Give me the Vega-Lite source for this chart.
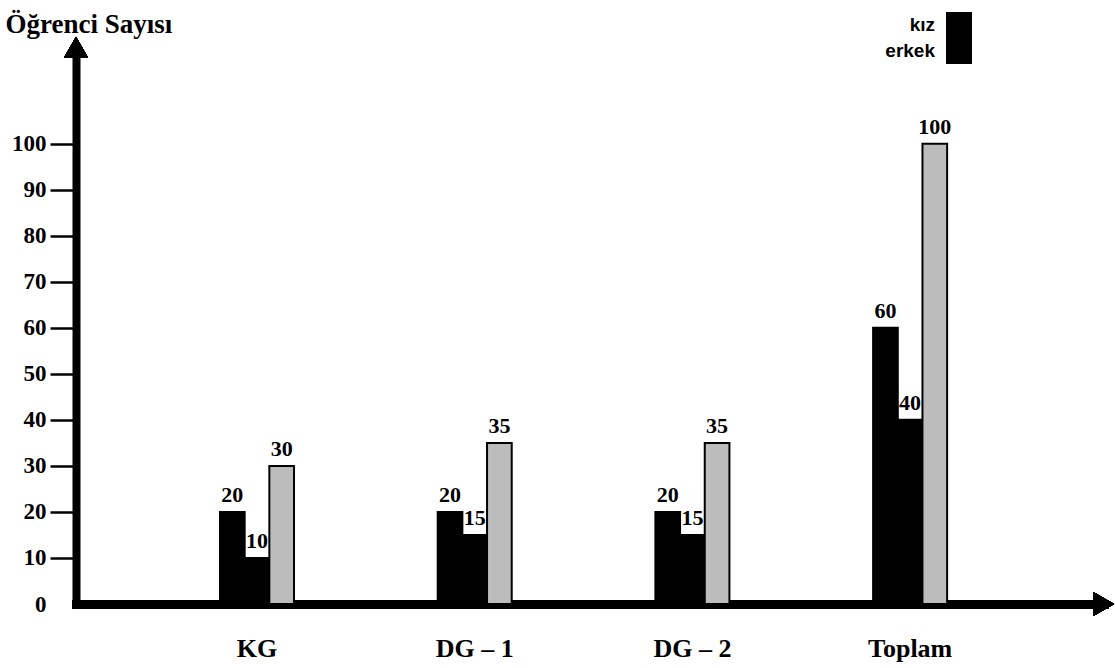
{
  "$schema": "https://vega.github.io/schema/vega-lite/v6.json",
  "autosize": {"type": "none"},
  "padding": {"left": 76, "top": 47, "right": 11, "bottom": 64},
  "width": 1028,
  "height": 557,
  "background": "white",
  "data": {
    "values": [
      {"kategori": "KG", "grup": "kız", "deger": 20},
      {"kategori": "KG", "grup": "erkek", "deger": 10},
      {"kategori": "KG", "grup": "toplam", "deger": 30},
      {"kategori": "DG – 1", "grup": "kız", "deger": 20},
      {"kategori": "DG – 1", "grup": "erkek", "deger": 15},
      {"kategori": "DG – 1", "grup": "toplam", "deger": 35},
      {"kategori": "DG – 2", "grup": "kız", "deger": 20},
      {"kategori": "DG – 2", "grup": "erkek", "deger": 15},
      {"kategori": "DG – 2", "grup": "toplam", "deger": 35},
      {"kategori": "Toplam", "grup": "kız", "deger": 60},
      {"kategori": "Toplam", "grup": "erkek", "deger": 40},
      {"kategori": "Toplam", "grup": "toplam", "deger": 100}
    ]
  },
  "resolve": {"scale": {"x": "independent"}, "axis": {"x": "independent"}},
  "layer": [
    {
      "layer": [
        {
          "mark": {"type": "bar", "stroke": "#000000", "strokeWidth": 2, "opacity": 1},
          "encoding": {
            "x": {
              "field": "kategori", "type": "nominal", "sort": null,
              "scale": {"paddingInner": 0.66, "paddingOuter": 0.691, "align": 0.4786},
              "axis": {
                "title": null, "labelAngle": 0, "ticks": false, "tickSize": 0,
                "labelFont": "Liberation Serif", "labelFontSize": 26, "labelFontWeight": "bold",
                "labelColor": "#000000", "labelPadding": 31,
                "domainColor": "#000000", "domainWidth": 9, "domainCap": "square"
              }
            },
            "xOffset": {
              "field": "grup", "type": "nominal", "sort": ["kız", "erkek", "toplam"],
              "scale": {"paddingInner": 0, "paddingOuter": 0}
            },
            "y": {
              "field": "deger", "type": "quantitative",
              "scale": {"domain": [0, 121], "nice": false},
              "axis": {
                "title": "Öğrenci Sayısı", "titleAngle": 0, "titleAlign": "left",
                "titleBaseline": "alphabetic", "titleX": -71, "titleY": -15,
                "titleFont": "Liberation Serif", "titleFontSize": 27, "titleFontWeight": "bold",
                "titleColor": "#000000",
                "values": [0, 10, 20, 30, 40, 50, 60, 70, 80, 90, 100],
                "grid": false, "labelFont": "Liberation Serif", "labelFontSize": 23,
                "labelFontWeight": "bold", "labelColor": "#000000", "labelPadding": 4,
                "tickSize": 26, "tickWidth": 2.5, "tickColor": "#000000",
                "tickOpacity": {"condition": {"test": "datum.value === 0", "value": 0}, "value": 1},
                "domainColor": "#000000", "domainWidth": 8, "domainCap": "square"
              }
            },
            "color": {
              "field": "grup", "type": "nominal",
              "scale": {"domain": ["kız", "erkek", "toplam"], "range": ["#000000", "#000000", "#bcbcbc"]},
              "legend": {
                "title": null, "values": ["kız", "erkek"], "orient": "none",
                "legendX": 870, "legendY": -35, "padding": 0, "rowPadding": 0,
                "symbolType": "square", "symbolSize": 676, "symbolStrokeWidth": 0,
                "symbolOpacity": 1, "symbolFillColor": "#1a1a1a",
                "labelFont": "Liberation Sans", "labelFontSize": 19, "labelFontWeight": "bold",
                "labelColor": "#000000", "labelAlign": "right", "labelOffset": -37
              }
            }
          }
        },
        {
          "mark": {
            "type": "text", "baseline": "alphabetic", "dy": -10,
            "font": "Liberation Serif", "fontSize": 22, "fontWeight": "bold", "color": "#000000"
          },
          "encoding": {
            "x": {"field": "kategori", "type": "nominal", "sort": null},
            "xOffset": {"field": "grup", "type": "nominal", "sort": ["kız", "erkek", "toplam"]},
            "y": {"field": "deger", "type": "quantitative"},
            "text": {"field": "deger", "type": "quantitative"}
          }
        }
      ]
    },
    {
      "mark": {"type": "point", "shape": "triangle-up", "size": 560, "filled": true, "color": "#000000", "opacity": 1},
      "encoding": {
        "x": {"datum": 0, "type": "quantitative", "scale": {"domain": [0, 1]}, "axis": null},
        "y": {"datum": 121, "type": "quantitative"}
      }
    },
    {
      "mark": {"type": "point", "shape": "triangle-right", "size": 560, "filled": true, "color": "#000000", "opacity": 1},
      "encoding": {
        "x": {"datum": 1, "type": "quantitative", "scale": {"domain": [0, 1]}, "axis": null},
        "y": {"datum": 0, "type": "quantitative"}
      }
    }
  ],
  "config": {"view": {"stroke": null}}
}
